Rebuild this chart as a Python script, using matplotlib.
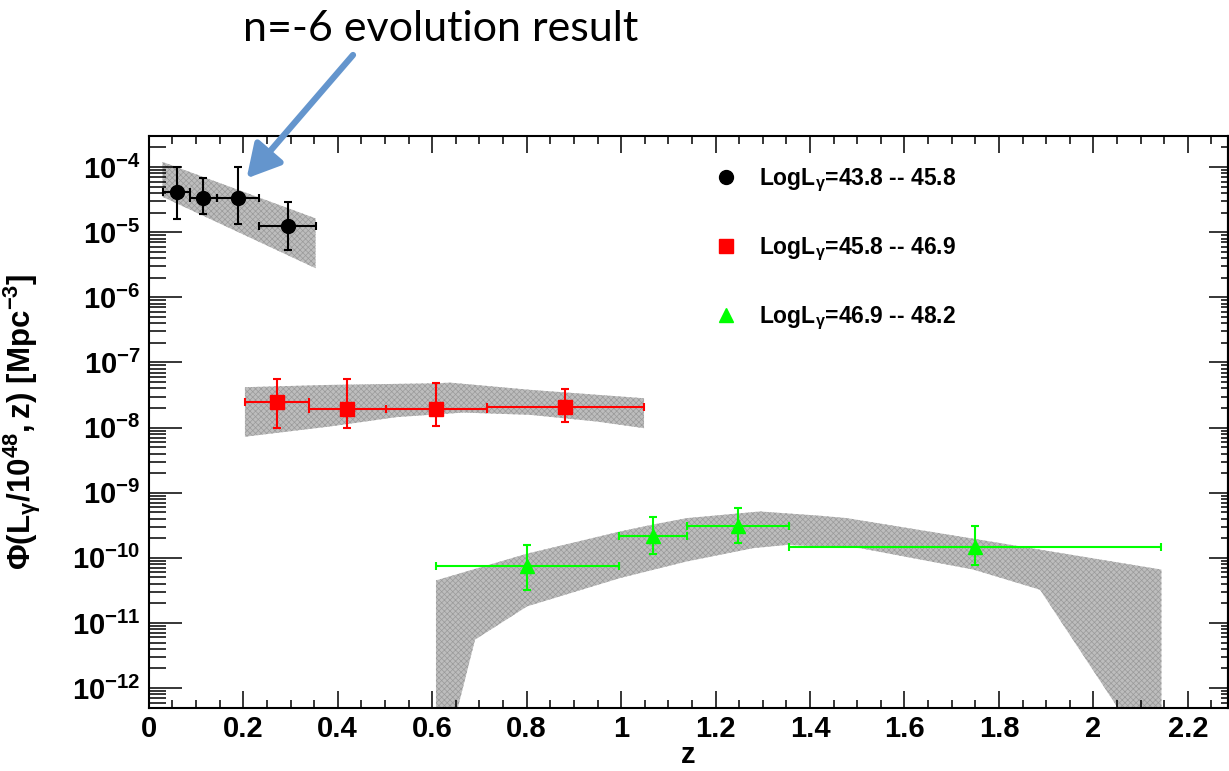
import matplotlib
matplotlib.use("Agg")
import matplotlib.pyplot as plt
import numpy as np
from matplotlib.lines import Line2D
from matplotlib.ticker import LogLocator, FuncFormatter, MultipleLocator, NullFormatter

plt.rcParams['font.family'] = ['Liberation Sans', 'DejaVu Sans']
plt.rcParams['font.weight'] = 'bold'
plt.rcParams['mathtext.fontset'] = 'custom'
plt.rcParams['mathtext.rm'] = 'Liberation Sans:bold'
plt.rcParams['mathtext.bf'] = 'Liberation Sans:bold'
plt.rcParams['mathtext.it'] = 'Liberation Sans:bold'
plt.rcParams['hatch.linewidth'] = 0.5

# LogL 43.8 -- 45.8 (black)
z1 = [0.059, 0.115, 0.188, 0.295]
z1_lo = [0.029, 0.087, 0.1435, 0.234]
z1_hi = [0.087, 0.1435, 0.234, 0.353]
phi1 = [4.2e-5, 3.4e-5, 3.3e-5, 1.25e-5]
phi1_lo = [1.57e-5, 1.9e-5, 1.33e-5, 5.4e-6]
phi1_hi = [9.9e-5, 6.9e-5, 9.9e-5, 2.92e-5]

# LogL 45.8 -- 46.9 (red)
z2 = [0.271, 0.420, 0.608, 0.881]
z2_lo = [0.2035, 0.339, 0.502, 0.715]
z2_hi = [0.339, 0.502, 0.715, 1.0485]
phi2 = [2.45e-8, 1.94e-8, 1.91e-8, 2.07e-8]
phi2_lo = [9.9e-9, 9.9e-9, 1.04e-8, 1.22e-8]
phi2_hi = [5.65e-8, 5.65e-8, 4.8e-8, 3.93e-8]

# LogL 46.9 -- 48.2 (green)
z3 = [0.801, 1.067, 1.247, 1.749]
z3_lo = [0.608, 0.995, 1.139, 1.355]
z3_hi = [0.995, 1.139, 1.355, 2.144]
phi3 = [7.6e-11, 2.18e-10, 3.03e-10, 1.47e-10]
phi3_lo = [3.24e-11, 1.16e-10, 1.69e-10, 7.9e-11]
phi3_hi = [1.59e-10, 4.17e-10, 5.73e-10, 3.03e-10]

# model bands (upper / lower edges)
band1_up_z = [0.029, 0.353]
band1_up = [1.2e-4, 1.63e-5]
band1_dn_z = [0.029, 0.353]
band1_dn = [3.5e-5, 2.8e-6]

band2_up_z = [0.2035, 0.3835, 0.608, 0.638, 0.807, 1.0485]
band2_up = [4.17e-8, 4.52e-8, 4.79e-8, 4.9e-8, 3.8e-8, 2.82e-8]
band2_dn_z = [0.2035, 0.3835, 0.525, 0.666, 0.807, 0.948, 1.0485]
band2_dn = [7.24e-9, 1.04e-8, 1.45e-8, 1.7e-8, 1.57e-8, 1.24e-8, 9.8e-9]

band3_up_z = [0.608, 0.801, 0.998, 1.067, 1.139, 1.294, 1.421, 1.478, 1.749, 2.144]
band3_up = [4.5e-11, 1.16e-10, 2.54e-10, 3.24e-10, 4.07e-10, 5.15e-10, 4.43e-10,
            4.07e-10, 1.95e-10, 6.6e-11]
band3_dn_z = [0.608, 0.63, 0.6907, 0.801, 0.998, 1.139, 1.28, 1.351, 1.506, 1.746,
              1.887, 2.115, 2.144]
band3_dn = [1e-13, 1e-13, 5.55e-12, 1.8e-11, 4.9e-11, 8.8e-11, 1.41e-10, 1.58e-10,
            1.41e-10, 6.6e-11, 3.24e-11, 1e-13, 1e-13]

labels = ["LogL$_{\\gamma}$=43.8 -- 45.8",
          "LogL$_{\\gamma}$=45.8 -- 46.9",
          "LogL$_{\\gamma}$=46.9 -- 48.2"]

BAND_FACE = "#bdbdbd"
BAND_HATCH = "#9a9a9a"


def draw_band(ax, zu, vu, zd, vd):
    xs = np.concatenate([zu, zd[::-1]])
    ys = np.concatenate([vu, vd[::-1]])
    ax.fill(xs, ys, facecolor=BAND_FACE, edgecolor=BAND_HATCH, hatch="xxxxxx",
            linewidth=0, zorder=1)


def draw_points(ax, z, zlo, zhi, phi, plo, phi_hi, color, marker, ms):
    z = np.array(z)
    phi = np.array(phi)
    xerr = [z - np.array(zlo), np.array(zhi) - z]
    yerr = [phi - np.array(plo), np.array(phi_hi) - phi]
    ax.errorbar(z, phi, xerr=xerr, yerr=yerr, fmt=marker, color=color, ms=ms,
                elinewidth=1.5, capsize=3, capthick=1.5, zorder=3)


fig = plt.figure(figsize=(12.29, 7.71), dpi=100)
ax = fig.add_axes([0.1211, 0.0821, 0.8781, 0.7415])

draw_band(ax, band1_up_z, band1_up, band1_dn_z, band1_dn)
draw_band(ax, band2_up_z, band2_up, band2_dn_z, band2_dn)
draw_band(ax, band3_up_z, band3_up, band3_dn_z, band3_dn)

draw_points(ax, z1, z1_lo, z1_hi, phi1, phi1_lo, phi1_hi, "black", "o", 10)
draw_points(ax, z2, z2_lo, z2_hi, phi2, phi2_lo, phi2_hi, "red", "s", 10)
draw_points(ax, z3, z3_lo, z3_hi, phi3, phi3_lo, phi3_hi, "#00ff00", "^", 10)

ax.set_yscale("log")
ax.set_xlim(0, 2.285)
ax.set_ylim(5e-13, 3e-4)

ax.xaxis.set_major_locator(MultipleLocator(0.2))
ax.xaxis.set_minor_locator(MultipleLocator(0.05))
ax.xaxis.set_major_formatter(FuncFormatter(lambda v, p: "%g" % round(v, 3)))
ax.yaxis.set_major_locator(LogLocator(base=10, numticks=20))
ax.yaxis.set_minor_locator(LogLocator(base=10, subs=np.arange(2, 10), numticks=20))
ax.yaxis.set_major_formatter(
    FuncFormatter(lambda v, p: r"$\mathbf{10^{%d}}$" % int(round(np.log10(v)))))
ax.yaxis.set_minor_formatter(NullFormatter())

ax.tick_params(which="both", direction="in", top=True, right=False, width=1.1,
               labelsize=21)
ax.tick_params(axis="x", which="major", length=12.5, pad=5)
ax.tick_params(axis="x", which="minor", length=6)
ax.tick_params(axis="y", which="major", length=24, pad=6)
ax.tick_params(axis="y", which="minor", length=12)
for s in ax.spines.values():
    s.set_linewidth(1.5)

# right-hand ticks are shorter in the original
sec = ax.secondary_yaxis("right")
sec.yaxis.set_major_locator(LogLocator(base=10, numticks=20))
sec.yaxis.set_minor_locator(LogLocator(base=10, subs=np.arange(2, 10), numticks=20))
sec.yaxis.set_major_formatter(NullFormatter())
sec.yaxis.set_minor_formatter(NullFormatter())
sec.tick_params(which="both", direction="in", width=1.1)
sec.tick_params(which="major", length=14)
sec.tick_params(which="minor", length=5)
sec.spines["right"].set_linewidth(1.5)

ax.set_xlabel("z", fontsize=21, fontweight="bold", labelpad=-1)
ax.set_ylabel(r"$\mathbf{\Phi(L_{\gamma}/10^{48},z)\ [Mpc^{-3}]}$", fontsize=22.5)
ax.yaxis.set_label_coords(-0.098, 0.5)

handles = [Line2D([], [], ls="none", marker="o", color="black", ms=10),
           Line2D([], [], ls="none", marker="s", color="red", ms=9.5),
           Line2D([], [], ls="none", marker="^", color="#00ff00", ms=10)]
ax.legend(handles, labels, loc="upper left", bbox_to_anchor=(0.5246, 0.946),
          frameon=False, prop={"size": 16.5, "weight": "bold"}, handlelength=1.0,
          handletextpad=0.9, labelspacing=1.8, borderpad=0, borderaxespad=0)

# annotation arrow and text
ax.annotate("", xy=(0.207, 6.7e-5), xycoords="data",
            xytext=(353.0 / 1229, 1 - 55.0 / 771), textcoords="figure fraction",
            arrowprops=dict(arrowstyle="-|>,head_width=0.55,head_length=1.0",
                            lw=4.5, color="#6495cd", mutation_scale=20,
                            shrinkA=0, shrinkB=0))
fig.text(441.0 / 1229, 1 - 40.7 / 771, "n=-6 evolution result", family="Lato",
         fontweight="normal", fontsize=31, ha="center", va="baseline")

fig.savefig("out.png", dpi=100)
